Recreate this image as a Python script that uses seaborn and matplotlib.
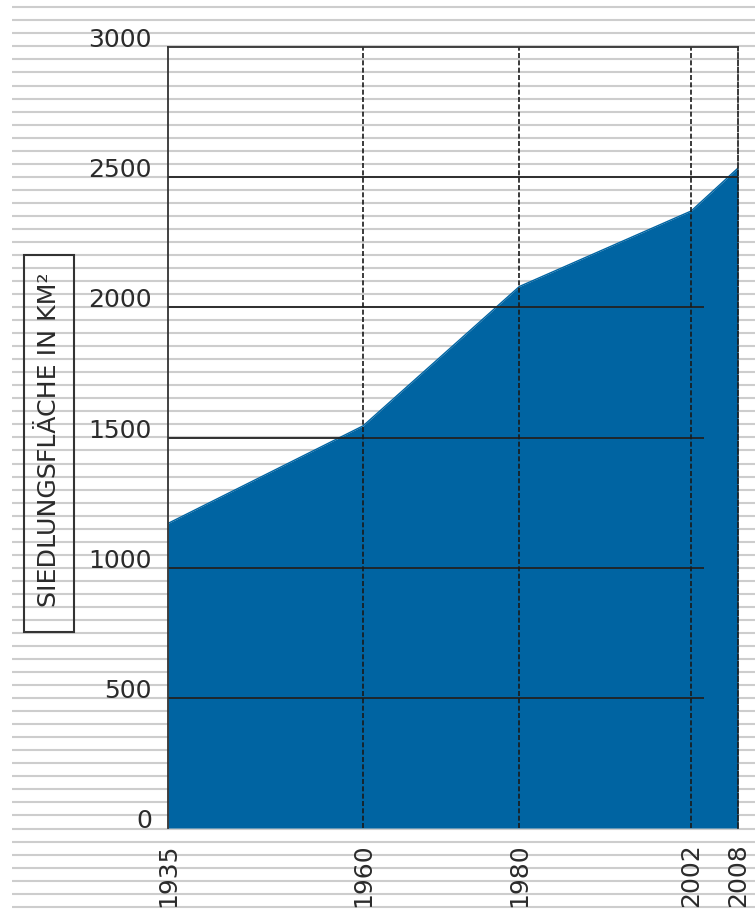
import numpy as np
import pandas as pd
import matplotlib
matplotlib.use("Agg")
import matplotlib.pyplot as plt
import matplotlib.patches as mpatches
from matplotlib import font_manager
import seaborn as sns

# Settlement area (km²) by survey year
years = [1935, 1960, 1980, 2002, 2008]
area_km2 = [1170, 1545, 2080, 2370, 2535]

y_ticks = [0, 500, 1000, 1500, 2000, 2500, 3000]
y_label = "SIEDLUNGSFLÄCHE IN KM²"

df = pd.DataFrame({"Jahr": years, "Fläche": area_km2})

sns.set_theme(style="white")
plt.rcParams["font.family"] = ["DejaVu Sans"]

# a narrow face for the boxed title, if one is available
installed = {f.name for f in font_manager.fontManager.ttflist}
if "Liberation Sans Narrow" in installed:
    title_font, title_size = ["Liberation Sans Narrow", "DejaVu Sans"], 20.5
else:
    title_font, title_size = ["DejaVu Sans"], 18.2

BLUE = "#0064a2"
INK = "#2b2b2b"
W, H = 755, 916
fig = plt.figure(figsize=(W / 100, H / 100), dpi=100)
fig.patch.set_facecolor("white")

# ruled-paper backdrop behind everything
bg = fig.add_axes([0, 0, 1, 1], zorder=0)
bg.set_xlim(0, W)
bg.set_ylim(H, 0)
bg.axis("off")
rule_y = np.arange(70) * 13.035 + 7.3
bg.hlines(rule_y, 12, W, color="#cdcdcd", lw=1.5)

# main plot area
left, right, top, bottom = 168, 738, 47, 828
ax = fig.add_axes([left / W, 1 - bottom / H, (right - left) / W, (bottom - top) / H], zorder=1)
ax.set_facecolor("none")

ax.fill_between(df["Jahr"], 0, df["Fläche"], color=BLUE, lw=0, zorder=1)
sns.lineplot(data=df, x="Jahr", y="Fläche", color=BLUE, lw=1, ax=ax, zorder=2)

ax.set_xlim(years[0], years[-1])
ax.set_ylim(y_ticks[0], y_ticks[-1])

# horizontal rules at value levels
grid_end = 2003.65
for v in y_ticks[1:-1]:
    xmax = years[-1] if v == 2500 else grid_end
    ax.hlines(v, years[0], xmax, color="#222222", lw=1.3, zorder=3)

# dashed year markers
for yr in years[1:-1]:
    ax.axvline(yr, color="#1a1a1a", lw=1.2, ls=(0, (3, 1.4)), zorder=3)

for s in ["top", "left"]:
    ax.spines[s].set_color("#333333")
    ax.spines[s].set_linewidth(1.3)
ax.spines["right"].set_color("#1a1a1a")
ax.spines["right"].set_linewidth(1.2)
ax.spines["right"].set_linestyle((0, (3, 1.4)))
ax.spines["bottom"].set_visible(False)
for s in ax.spines.values():
    s.set_zorder(4)

ax.set_xticks(years)
ax.set_xticklabels([str(y) for y in years], rotation=90, fontsize=18, color=INK)
ax.set_yticks(y_ticks)
ax.set_yticklabels([str(v) for v in y_ticks], fontsize=18, color=INK)
for lbl in ax.get_yticklabels():
    lbl.set_va("baseline")
for lbl in ax.get_xticklabels():
    lbl.set_va("top")
    lbl.set_ha("center")
ax.tick_params(axis="y", length=0, pad=11.5)
ax.tick_params(axis="x", length=0, pad=11)
ax.set_xlabel("")
ax.set_ylabel("")

# boxed axis title
box = mpatches.Rectangle((24 / W, 1 - 632 / H), 50 / W, 377 / H,
                         transform=fig.transFigure, fill=False,
                         edgecolor="#333333", lw=1.5, zorder=5)
fig.add_artist(box)
fig.text(49.5 / W, 1 - 440 / H, y_label, rotation=90, ha="center", va="center",
         fontsize=title_size, family=title_font, color=INK, zorder=6)

fig.savefig("out.png", dpi=100)
